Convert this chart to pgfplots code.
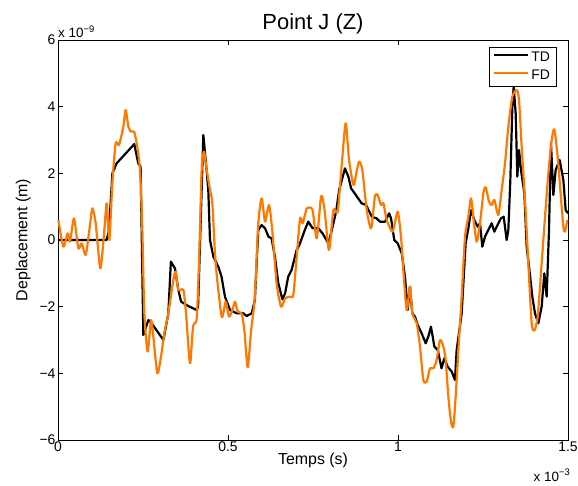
\documentclass[border=0pt]{standalone}
\usepackage{fontspec}
\setmainfont{Liberation Sans}
\usepackage{pgfplots}
\pgfplotsset{compat=1.18}
\definecolor{fdorange}{RGB}{255,120,0}
\begin{document}
\begin{tikzpicture}
\begin{axis}[
  scale only axis, width=510bp, height=400bp,
  xmin=0, xmax=1.5, ymin=-6, ymax=6,
  xtick={0,0.5,1,1.5}, xticklabels={0,0.5,1,1.5},
  ytick={-6,-4,-2,0,2,4,6}, yticklabels={−6,−4,−2,0,2,4,6},
  tick align=inside, major tick length=5bp,
  axis line style={line width=0.8pt}, every tick/.style={line width=0.6pt, black},
  tick label style={font=\fontsize{14}{16}\selectfont},
  xticklabel style={yshift=2bp}, yticklabel style={xshift=1bp},
  /pgf/number format/assume math mode=true,
  xlabel={Temps (s)}, ylabel={Deplacement (m)},
  label style={font=\fontsize{16}{18}\selectfont},
  xlabel style={yshift=5bp}, ylabel style={yshift=2bp},
  title={Point J (Z)}, title style={font=\fontsize{22}{24}\selectfont, yshift=-4bp},
  clip=false,
  legend style={at={(rel axis cs:0.977,0.9825)}, anchor=north east, draw=black, line width=0.7pt,
    font=\fontsize{14}{15}\selectfont, inner xsep=4pt, inner ysep=3pt, row sep=2.5pt, cells={anchor=west}},
  legend cell align=left,
  legend image code/.code={\draw[#1] (0cm,0.5ex) -- (1.2cm,0.5ex);},
]
\addlegendimage{draw=black, line width=1.8pt}
\addlegendentry{TD}
\addlegendimage{draw=fdorange, line width=1.8pt}
\addlegendentry{FD}
\addplot[black, line width=2.2pt, line join=round, forget plot] coordinates {
(0,0) (0.143,0) (0.150,0.3) (0.160,2.0) (0.1725,2.3) (0.2245,2.88) (0.236,2.3) (0.243,2.2) (0.251,-2.85) (0.266,-2.4) (0.2755,-2.5) (0.31,-3.0) (0.3245,-2.2) (0.332,-0.65) (0.344,-0.85) (0.354,-1.5) (0.362,-1.85) (0.383,-1.98) (0.408,-2.1) (0.412,-2.0) (0.4275,3.15) (0.437,2.1) (0.442,1.5) (0.447,0.0) (0.457,-0.5) (0.4716,-0.8) (0.481,-1.1) (0.491,-1.7) (0.506,-2.1) (0.5255,-2.2) (0.545,-2.2) (0.555,-2.28) (0.5696,-2.2) (0.579,-1.8) (0.589,0.3) (0.599,0.45) (0.609,0.35) (0.619,0.1) (0.628,0.05) (0.638,-0.5) (0.648,-1.3) (0.66,-1.78) (0.668,-1.6) (0.677,-1.1) (0.687,-0.9) (0.702,-0.3) (0.71,-0.15) (0.726,0.3) (0.736,0.55) (0.749,0.35) (0.766,0.35) (0.778,0.2) (0.795,-0.1) (0.803,0.2) (0.818,0.85) (0.827,1.5) (0.844,2.15) (0.854,1.9) (0.862,1.55) (0.876,1.35) (0.893,1.1) (0.906,1.05) (0.923,0.7) (0.937,0.65) (0.947,0.55) (0.962,0.55) (0.974,0.8) (0.9795,0.65) (0.989,0) (0.999,-0.1) (1.011,-0.4) (1.0206,-1.1) (1.0284,-2.1) (1.035,-1.4) (1.042,-2.2) (1.05,-2.3) (1.058,-2.55) (1.0696,-2.8) (1.0814,-3.1) (1.089,-2.9) (1.097,-2.6) (1.107,-3.2) (1.117,-3.3) (1.128,-3.85) (1.1363,-3.55) (1.146,-3.8) (1.158,-3.95) (1.1676,-4.2) (1.1725,-3.3) (1.1873,-2.2) (1.199,-0.1) (1.2069,0.35) (1.2147,0.9) (1.2245,0.6) (1.2343,0.4) (1.2412,0.5) (1.248,-0.2) (1.2559,0.1) (1.2657,0.3) (1.2755,0.5) (1.2833,0.25) (1.2951,0.5) (1.3029,0.65) (1.3108,0.7) (1.3196,0) (1.3245,0.3) (1.3304,1.8) (1.3363,4.0) (1.3402,4.6) (1.3461,3.8) (1.351,1.9) (1.3559,2.7) (1.3618,2.1) (1.3716,1.4) (1.3784,-0.2) (1.3882,-1.05) (1.3951,-1.7) (1.4029,-2.2) (1.4127,-2.5) (1.4225,-2.0) (1.4304,-1.0) (1.4373,-1.7) (1.4441,0.3) (1.45,2.9) (1.4569,1.35) (1.4637,2.1) (1.4755,2.4) (1.4863,1.8) (1.4931,0.9) (1.5,0.8)
};
\addplot[fdorange, line width=2.2pt, line join=round, smooth, tension=0.4, forget plot] coordinates {
(0.001,0.6) (0.0157,-0.2) (0.0284,0.2) (0.0353,-0.05) (0.047,0.65) (0.0598,-0.25) (0.0696,-0.1) (0.0814,-0.45) (0.0922,0.3) (0.101,0.95) (0.1108,0.5) (0.1245,-0.85) (0.1363,0.3) (0.1431,1.1) (0.151,0) (0.1598,1.7) (0.1696,2.9) (0.1794,2.85) (0.1922,3.4) (0.199,3.9) (0.2069,3.4) (0.2147,3.25) (0.2235,3.25) (0.2314,2.9) (0.2412,2.1) (0.248,0.3) (0.2539,-2.2) (0.2637,-3.35) (0.2735,-2.4) (0.2804,-2.9) (0.2922,-4.0) (0.3029,-3.5) (0.3127,-2.8) (0.3245,-2.2) (0.3392,-1.2) (0.3461,-0.95) (0.3539,-1.5) (0.3686,-1.5) (0.3765,-2.2) (0.3882,-3.7) (0.3971,-2.6) (0.4078,-2.35) (0.4147,-0.7) (0.4225,2.1) (0.4294,2.65) (0.4373,2.1) (0.4471,1.5) (0.4539,1.1) (0.4637,-0.7) (0.4814,-2.3) (0.4931,-1.85) (0.5029,-2.3) (0.5127,-2.1) (0.5206,-1.85) (0.5284,-2.15) (0.540,-2.2) (0.548,-2.7) (0.558,-3.82) (0.568,-2.7) (0.579,-1.7) (0.589,0.5) (0.599,1.25) (0.609,0.55) (0.6206,1.05) (0.630,0.3) (0.643,-1.3) (0.656,-2.0) (0.668,-1.75) (0.682,-1.7) (0.692,-1.65) (0.702,-0.5) (0.712,0.65) (0.7196,0.5) (0.732,0.95) (0.7485,0.9) (0.761,0.05) (0.774,1.32) (0.784,0.9) (0.797,-0.3) (0.810,0.9) (0.8225,0.85) (0.834,2.2) (0.846,3.5) (0.856,2.4) (0.869,1.65) (0.879,2.1) (0.886,2.35) (0.895,2.1) (0.908,0.9) (0.921,0.35) (0.932,1.3) (0.940,1.35) (0.950,1.05) (0.957,1.1) (0.967,0.6) (0.984,0.25) (0.999,0.85) (1.0088,0.1) (1.0157,-0.9) (1.0255,-2.1) (1.0353,-1.4) (1.0422,-2.2) (1.0549,-2.5) (1.0647,-3.2) (1.0745,-4.2) (1.0843,-4.25) (1.0941,-3.85) (1.1039,-3.85) (1.1137,-3.6) (1.1235,-3.0) (1.1333,-3.2) (1.1402,-3.6) (1.148,-4.7) (1.1559,-5.45) (1.1627,-5.6) (1.1696,-4.7) (1.1775,-3.3) (1.1873,-1.7) (1.1971,0.1) (1.2069,0.7) (1.2147,1.25) (1.2225,0.6) (1.2314,-0.05) (1.2412,0.5) (1.251,1.4) (1.2578,1.58) (1.2676,1.15) (1.2755,1.05) (1.2833,1.2) (1.2951,0.75) (1.3049,1.5) (1.3147,2.3) (1.3245,3.4) (1.3363,4.3) (1.349,4.5) (1.3559,4.2) (1.3637,2.8) (1.3735,1.2) (1.3833,-0.7) (1.3931,-2.5) (1.4010,-2.72) (1.4108,-2.3) (1.4225,-0.7) (1.4324,0.7) (1.4422,2.0) (1.452,3.0) (1.4598,3.32) (1.4696,2.5) (1.4775,1.5) (1.4863,0.4) (1.4912,0.25) (1.498,0.6)
};
\node[anchor=south west, inner sep=0pt, font=\fontsize{13.5}{15}\selectfont] at ([yshift=2bp]rel axis cs:0,1) {x 10\raisebox{0.75ex}{\fontsize{9.5}{10}\selectfont −9}};
\node[anchor=north east, inner sep=0pt, font=\fontsize{13.5}{15}\selectfont] at ([yshift=-29bp, xshift=2bp]rel axis cs:1,0) {x 10\raisebox{0.75ex}{\fontsize{9.5}{10}\selectfont −3}};
\coordinate (sw) at (rel axis cs:0,0);
\coordinate (ne) at (rel axis cs:1,1);
\end{axis}
\pgfresetboundingbox
\path[use as bounding box] ([shift={(-58bp,-46bp)}]sw) rectangle ([shift={(10bp,40bp)}]ne);
\end{tikzpicture}
\end{document}
